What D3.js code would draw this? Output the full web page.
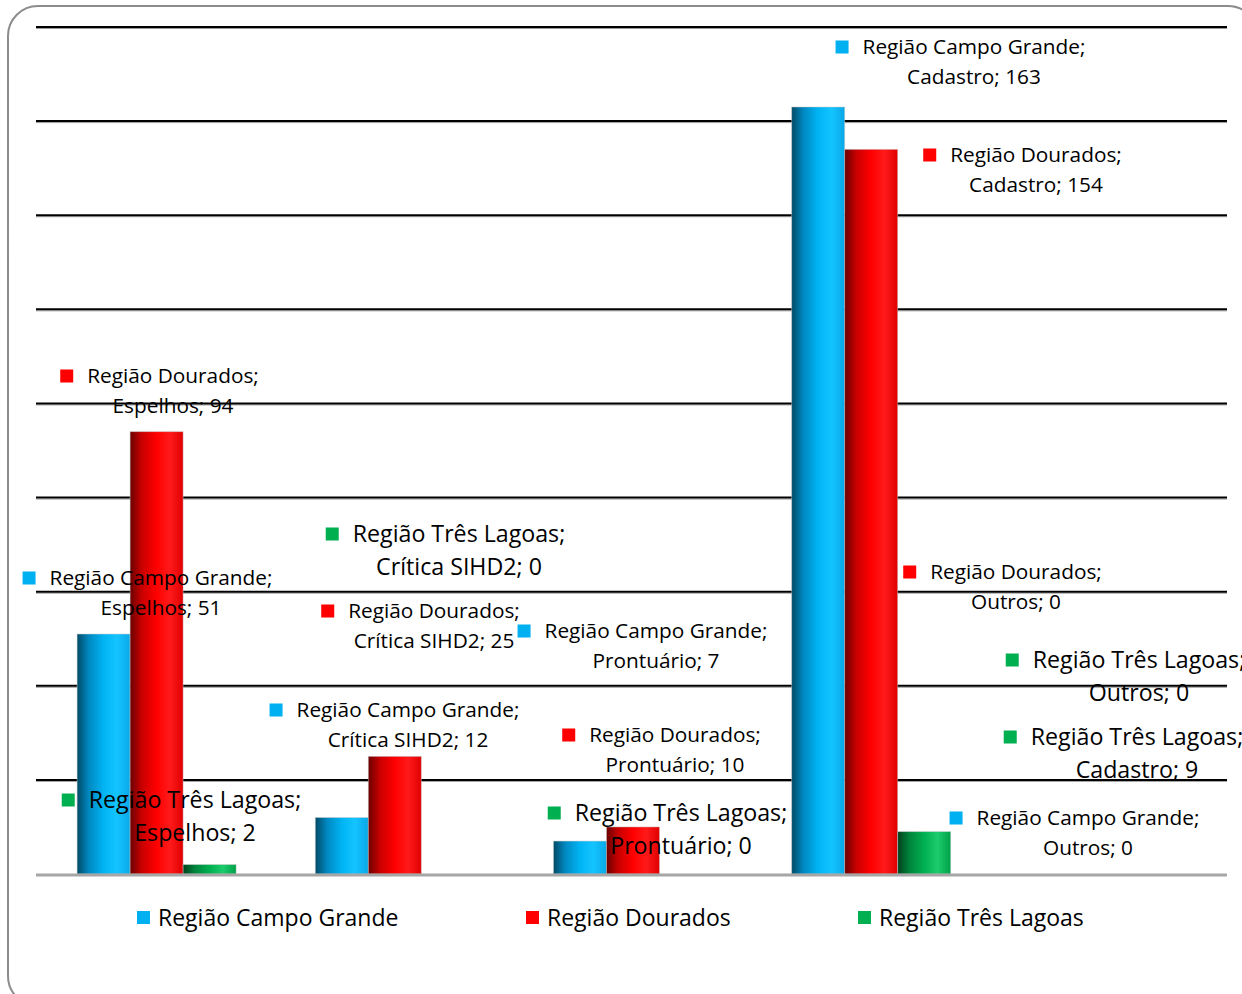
<!DOCTYPE html>
<html><head><meta charset="utf-8">
<script src="https://cdn.jsdelivr.net/npm/d3@7"></script>
<style>
html,body{margin:0;padding:0;background:#fff;}
svg{display:block;font-family:"Open Sans",sans-serif;}
</style></head>
<body>
<svg id="chart" width="1242" height="994"></svg>
<script>
// ---- data ----
const categories = ["Espelhos", "Crítica SIHD2", "Prontuário", "Cadastro", "Outros"];
const seriesNames = ["Região Campo Grande", "Região Dourados", "Região Três Lagoas"];
const campoGrande = [51, 12, 7, 163, 0];
const dourados    = [94, 25, 10, 154, 0];
const tresLagoas  = [2, 0, 0, 9, 0];
const seriesValues = [campoGrande, dourados, tresLagoas];
const yTicks = [0, 20, 40, 60, 80, 100, 120, 140, 160, 180];

// ---- layout for manually placed data labels (series index, category index, text centre x, first line y, big) ----
const labelLayout = [
  [0, 3, 974, 47, false],
  [1, 3, 1036, 155, false],
  [1, 0, 173, 376, false],
  [2, 1, 459, 534, true],
  [0, 0, 161, 578, false],
  [1, 4, 1016, 572, false],
  [1, 1, 434, 611, false],
  [0, 2, 656, 631, false],
  [2, 4, 1139, 660, true],
  [0, 1, 408, 710, false],
  [1, 2, 675, 735, false],
  [2, 3, 1137, 737, true],
  [2, 0, 195, 800, true],
  [2, 2, 681, 813, true],
  [0, 4, 1088, 818, false]
];

const colors = ["#00b0f0", "#ff0000", "#00b050"];
const gradStops = [
  ["#004a66", "#0088c0", "#00b4f4", "#14c4ff", "#0aa8e6"],
  ["#6a0000", "#c80000", "#ff0000", "#ff1a1a", "#e00000"],
  ["#00401c", "#00843c", "#00b050", "#1ccc6c", "#00a048"]
];

const svg = d3.select("#chart");
const defs = svg.append("defs");
gradStops.forEach((st, i) => {
  const g = defs.append("linearGradient").attr("id", "g" + i)
    .attr("x1", "0%").attr("x2", "100%").attr("y1", "0%").attr("y2", "0%");
  const offs = [0, 0.22, 0.5, 0.75, 1];
  st.forEach((c, k) => g.append("stop").attr("offset", offs[k]).attr("stop-color", c));
});

// frame
svg.append("rect").attr("x", 8).attr("y", 6).attr("width", 1250).attr("height", 1000)
  .attr("rx", 30).attr("ry", 30).attr("fill", "#fff").attr("stroke", "#8c8c8c").attr("stroke-width", 2);

const x0 = d3.scaleBand().domain(categories).range([37.5, 1228.5]).paddingInner(0.3325).paddingOuter(0.16625);
const x1 = d3.scaleBand().domain(seriesNames).range([0, x0.bandwidth()]);
const y = d3.scaleLinear().domain([0, 180]).range([874, 27]);

// gridlines
const grid = svg.append("g");
grid.selectAll("line.sh").data(yTicks.filter(d => d > 0)).join("line")
  .attr("x1", 36).attr("x2", 1227).attr("y1", d => y(d) + 1.5).attr("y2", d => y(d) + 1.5)
  .attr("stroke", "#9a9a9a").attr("stroke-width", 1);
grid.selectAll("line.gl").data(yTicks.filter(d => d > 0)).join("line")
  .attr("x1", 36).attr("x2", 1227).attr("y1", d => y(d)).attr("y2", d => y(d))
  .attr("stroke", "#000").attr("stroke-width", 2);

// bars
const bars = svg.append("g");
seriesValues.forEach((vals, si) => {
  bars.selectAll("rect.s" + si).data(vals.map((v, ci) => ({v, c: categories[ci]}))).join("rect")
    .attr("x", d => x0(d.c) + x1(seriesNames[si]))
    .attr("width", x1.bandwidth())
    .attr("y", d => y(d.v))
    .attr("height", d => y(0) - y(d.v))
    .attr("fill", "url(#g" + si + ")")
    .attr("stroke", "rgba(200,200,200,0.6)").attr("stroke-width", 0.8);
});

// baseline
svg.append("line").attr("x1", 36).attr("x2", 1227).attr("y1", y(0) + 1).attr("y2", y(0) + 1)
  .attr("stroke", "#a6a6a6").attr("stroke-width", 3);

// data labels
const lab = svg.append("g");
labelLayout.forEach(([si, ci, cx, ly, big]) => {
  const fs = big ? 23.2 : 20.8;
  const lh = big ? 33 : 29.5;
  const t1 = seriesNames[si] + ";";
  const t2 = categories[ci] + "; " + seriesValues[si][ci];
  const g = lab.append("g");
  const tx = g.append("text").attr("x", cx).attr("y", ly).attr("dy", "0.35em")
    .attr("text-anchor", "middle").attr("font-size", fs).attr("fill", "#000").text(t1);
  g.append("text").attr("x", cx).attr("y", ly + lh).attr("dy", "0.35em")
    .attr("text-anchor", "middle").attr("font-size", fs).attr("fill", "#000").text(t2);
  const w = tx.node().getComputedTextLength();
  g.append("rect").attr("x", cx - w / 2 - 27).attr("y", ly - 6.5).attr("width", 13).attr("height", 13)
    .attr("fill", colors[si]);
});

// legend
const legendX = [137, 526, 858];
const leg = svg.append("g");
seriesNames.forEach((n, i) => {
  leg.append("rect").attr("x", legendX[i]).attr("y", 911).attr("width", 13).attr("height", 13).attr("fill", colors[i]);
  leg.append("text").attr("x", legendX[i] + 21).attr("y", 918).attr("dy", "0.35em")
    .attr("font-size", 23).attr("fill", "#000").text(n);
});
</script>
</body></html>
